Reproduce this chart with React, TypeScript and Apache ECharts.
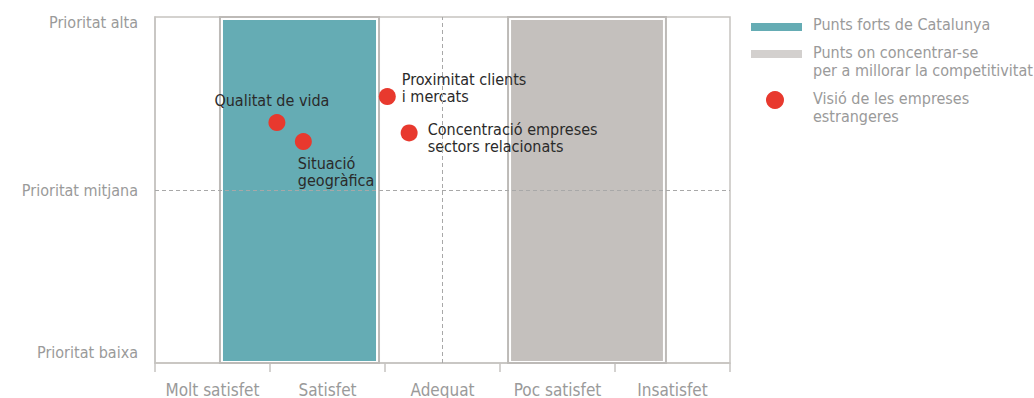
import React, { useEffect, useRef } from "react";
import * as echarts from "echarts";

const xCategories = ["Molt satisfet", "Satisfet", "Adequat", "Poc satisfet", "Insatisfet"];
const yTickLabels = ["Prioritat baixa", "Prioritat mitjana", "Prioritat alta"];

const pointNames = [
  "Qualitat de vida",
  "Situació\ngeogràfica",
  "Proximitat clients\ni mercats",
  "Concentració empreses\nsectors relacionats",
];
const pointX = [1.06, 1.29, 2.02, 2.21];
const pointY = [1.39, 1.28, 1.54, 1.33];

const strengthBand = [0.565, 1.948];
const improveBand = [3.07, 4.443];
const referenceX = 2.5;
const referenceY = 1;

const legendLabels = [
  "Punts forts de Catalunya",
  "Punts on concentrar-se\nper a millorar la competitivitat",
  "Visió de les empreses\nestrangeres",
];

const FONT = '"Liberation Sans Narrow", "DejaVu Sans Condensed", "Roboto", sans-serif';
const TEAL = "#65acb4";
const GREY = "#c4c0bd";
const RED = "#e8392e";
const LINE = "#c6c3c0";
const LABEL = "#9a9a9a";

const labelPlacement = [
  { position: [-54, -22], align: "left", verticalAlign: "top" },
  { position: [3, 22], align: "left", verticalAlign: "top" },
  { position: [23, -17], align: "left", verticalAlign: "top" },
  { position: [27, -3], align: "left", verticalAlign: "top" },
];

export default function App() {
  const ref = useRef<HTMLDivElement>(null);
  useEffect(() => {
    if (!ref.current) return;
    const chart = echarts.init(ref.current, null, { renderer: "svg" });
    const bands = [
      [strengthBand[0], strengthBand[1], 0],
      [improveBand[0], improveBand[1], 1],
    ];
    const option: any = {
      animation: false,
      grid: {
        left: 155,
        right: 304,
        top: 17,
        bottom: 35,
        show: true,
        borderColor: LINE,
        borderWidth: 1.5,
      },
      xAxis: [
        { type: "value", min: 0, max: 5, show: false },
        {
          type: "category",
          data: xCategories,
          position: "bottom",
          boundaryGap: true,
          axisLine: { show: true, lineStyle: { color: LINE, width: 1.5 } },
          axisTick: { show: true, length: 9, interval: 0, lineStyle: { color: LINE, width: 1.5 } },
          axisLabel: { interval: 0, color: LABEL, fontSize: 17, fontFamily: FONT, margin: 18 },
          splitLine: { show: false },
        },
      ],
      yAxis: {
        type: "value",
        min: 0,
        max: 2,
        interval: 1,
        axisLine: { show: true, lineStyle: { color: LINE, width: 1.5 } },
        axisTick: { show: false },
        splitLine: { show: false },
        axisLabel: {
          margin: 17,
          formatter: (v: number) => {
            const i = Math.round(v);
            const key = i === 0 ? "lo" : i === 2 ? "hi" : "mid";
            return `{${key}|${yTickLabels[i]}}`;
          },
          rich: {
            lo: { color: LABEL, fontSize: 16, fontFamily: FONT, padding: [0, 0, 22, 0] },
            mid: { color: LABEL, fontSize: 16, fontFamily: FONT },
            hi: { color: LABEL, fontSize: 16, fontFamily: FONT, padding: [10, 0, 0, 0] },
          },
        },
      },
      series: [
        {
          type: "line",
          data: [],
          z: 1,
          markLine: {
            silent: true,
            symbol: "none",
            label: { show: false },
            lineStyle: { color: "#a8a8a8", type: [4, 3], width: 1 },
            data: [{ xAxis: referenceX }, { yAxis: referenceY }],
          },
        },
        {
          type: "custom",
          z: 2,
          silent: true,
          data: bands,
          renderItem: (params: any, api: any) => {
            const x0 = api.value(0);
            const x1 = api.value(1);
            const kind = api.value(2);
            const p0 = api.coord([x0, 2]);
            const p1 = api.coord([x1, 0]);
            const w = p1[0] - p0[0];
            const h = p1[1] - p0[1];
            return {
              type: "group",
              children: [
                {
                  type: "rect",
                  shape: { x: p0[0], y: p0[1], width: w, height: h },
                  style: { fill: "#fff", stroke: "#bdbab7", lineWidth: 2 },
                },
                {
                  type: "rect",
                  shape: { x: p0[0] + 3, y: p0[1] + 3, width: w - 6, height: h - 5 },
                  style: { fill: kind === 0 ? TEAL : GREY },
                },
              ],
            };
          },
        },
        {
          type: "scatter",
          z: 3,
          symbolSize: 17,
          itemStyle: { color: RED, opacity: 1 },
          emphasis: { disabled: true },
          data: pointNames.map((n, i) => ({
            name: n,
            value: [pointX[i], pointY[i]],
            label: {
              show: true,
              formatter: n,
              color: "#2a2a2a",
              fontSize: 16,
              fontWeight: 500,
              fontFamily: FONT,
              lineHeight: 17,
              ...labelPlacement[i],
            },
          })),
        },
      ],
      graphic: [
        { type: "rect", shape: { x: 751, y: 23, width: 51, height: 8 }, style: { fill: TEAL } },
        {
          type: "text",
          x: 813,
          y: 24,
          style: { text: legendLabels[0], fill: LABEL, fontSize: 16, fontFamily: FONT, verticalAlign: "middle", lineHeight: 18 },
        },
        { type: "rect", shape: { x: 751, y: 50, width: 51, height: 8 }, style: { fill: "#d3d0ce" } },
        {
          type: "text",
          x: 813,
          y: 61,
          style: { text: legendLabels[1], fill: LABEL, fontSize: 16, fontFamily: FONT, verticalAlign: "middle", lineHeight: 18 },
        },
        { type: "circle", shape: { cx: 775, cy: 100, r: 9 }, style: { fill: RED } },
        {
          type: "text",
          x: 813,
          y: 107,
          style: { text: legendLabels[2], fill: LABEL, fontSize: 16, fontFamily: FONT, verticalAlign: "middle", lineHeight: 18 },
        },
      ],
    };
    chart.setOption(option);
    return () => chart.dispose();
  }, []);
  return (
    <div
      ref={ref}
      style={{ position: "fixed", left: 0, top: 0, width: 1034, height: 398, background: "#fff" }}
    />
  );
}
